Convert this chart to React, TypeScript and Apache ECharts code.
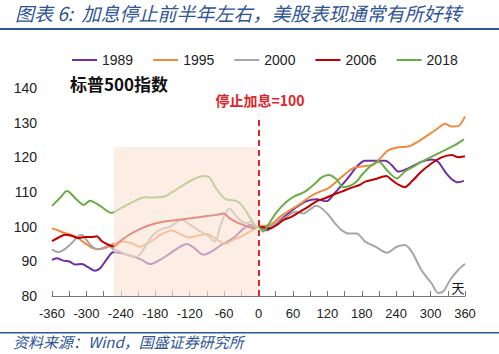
import React, { useEffect, useRef } from "react";
import * as echarts from "echarts";

const seriesNames = ["1989", "1995", "2000", "2006", "2018"];
const seriesColors = ["#7030A0", "#F08A3C", "#A6A6A6", "#C00000", "#6BAD45"];

const s1989: number[][] = [[-360,90.4],[-352,90.9],[-340,90.2],[-329,89.9],[-320,89.1],[-308,89.2],[-297,88.3],[-285,87.3],[-276,88],[-265,90.5],[-253,92.6],[-238,92.3],[-221,91.5],[-204,90.5],[-189,89.2],[-172,90.4],[-154,92.3],[-137,94.2],[-125,95],[-114,94.1],[-96,91.9],[-82,92.8],[-67,94.5],[-56,95.5],[-41,97.1],[-29,99],[-15,100.5],[-5,99.8],[0,100],[14,99],[30,100.8],[49,103.4],[66,105.6],[83,107.3],[101,107.9],[118,107.3],[133,109.7],[148,112.5],[160,114.9],[171,117.3],[186,119],[203,119],[221,119],[232,117.8],[244,115.9],[255,116.4],[267,117.3],[284,118.7],[302,119.4],[313,118.7],[325,115.9],[337,113.7],[348,112.8],[358,113.2]];
const s1995: number[][] = [[-360,99.5],[-349,98.9],[-337,98.1],[-326,97.6],[-314,96.6],[-302,95.2],[-291,94],[-279,93.5],[-265,94],[-253,95],[-238,95.7],[-221,95.2],[-207,94.2],[-190,95.5],[-180,96.5],[-172,97.6],[-151,98.9],[-137,97.9],[-122,96.9],[-108,97.3],[-90,97.9],[-73,96.4],[-58,95],[-44,96.2],[-29,97.3],[-15,98.6],[0,100],[20,100.5],[38,102.9],[55,104.8],[73,106.6],[90,108.7],[107,110.1],[122,111.1],[136,113],[151,115.2],[165,116.9],[177,117.3],[186,117.5],[200,117.8],[215,120.2],[226,122],[244,122.9],[261,123.1],[279,124.6],[296,126.5],[313,128.4],[325,129.7],[337,128.9],[348,129],[360,131.8]];
const s2000: number[][] = [[-360,93.4],[-349,92.7],[-337,93.6],[-326,95.2],[-314,97.3],[-308,97.6],[-300,96.2],[-291,94.4],[-282,93.5],[-273,93.7],[-262,94.5],[-253,93.5],[-241,92.8],[-224,91.5],[-212,91.3],[-201,93.3],[-186,97.2],[-172,99.1],[-154,100],[-134,101.9],[-119,100.5],[-105,99],[-90,97.6],[-76,95.7],[-67,100],[-58,103.8],[-50,105.2],[-41,103.4],[-32,101.9],[-21,101],[-12,101.4],[-5,100.2],[0,100],[8,99.5],[32,101],[49,102.9],[66,104.3],[78,103.8],[90,105],[101,106],[110,105.3],[122,103.4],[133,101],[145,99],[157,98],[171,98],[186,95.7],[203,94.3],[224,92.5],[241,94.2],[255,94.7],[267,92.8],[284,87.5],[302,83.6],[313,80.9],[322,81.3],[334,84.6],[348,87.5],[360,89.3]];
const s2006: number[][] = [[-360,95.8],[-349,96.8],[-337,97.7],[-326,97.4],[-314,96.7],[-302,97],[-291,97],[-282,97.2],[-273,95.8],[-262,94.8],[-253,94.3],[-238,96.2],[-221,98.1],[-204,99.5],[-189,100.5],[-166,101.4],[-143,101.9],[-119,102.4],[-96,102.9],[-73,103.4],[-61,103.8],[-50,102.4],[-35,101],[-21,100.2],[-9,99.5],[0,100],[20,99.5],[32,100.5],[43,101.9],[58,102.9],[72,104.3],[87,105.8],[101,107.3],[116,108.2],[130,109.2],[145,110.1],[160,111.1],[177,112.1],[186,113],[203,113.7],[223,114.6],[232,113.5],[244,112.1],[255,111.4],[267,113],[284,115.9],[302,118.3],[319,120],[337,120.7],[348,120],[360,120.3]];
const s2018: number[][] = [[-360,106],[-345,108.5],[-334,110.3],[-317,107.8],[-304,106.3],[-294,107.5],[-279,106.3],[-262,104.3],[-256,104],[-238,105.5],[-221,107],[-198,108.5],[-189,108.4],[-166,108.6],[-149,110.1],[-131,112],[-114,113.6],[-96,114.6],[-87,114.4],[-73,110.8],[-58,108],[-47,107.7],[-35,107.1],[-23,104.8],[-14,102.4],[-3,99.8],[0,100],[8,98.6],[17,100.5],[32,104.3],[49,107.2],[61,108.6],[81,110.1],[99,112.5],[110,114.2],[122,114.9],[136,113.7],[148,111.4],[160,111.8],[171,113],[180,114.9],[194,117.3],[209,118.7],[226,115.9],[241,113.9],[255,115.9],[270,117.3],[284,118.7],[302,120.2],[325,122.1],[343,123.6],[358,125.2]];
const seriesData = [s1989, s1995, s2000, s2006, s2018];

const shadeRange = [-252, 0];
const shadeTop = 123;
const stopLineTop = 132;

export default function App() {
  const ref = useRef<HTMLDivElement>(null);
  useEffect(() => {
    if (!ref.current) return;
    const chart = echarts.init(ref.current, null, { renderer: "svg" });
    const lines = seriesNames.map((name, i) => ({
      name,
      type: "line",
      data: seriesData[i],
      symbol: "none",
      smooth: 0.3,
      z: 2,
      lineStyle: { width: 2, color: seriesColors[i] },
      itemStyle: { color: seriesColors[i] },
    }));
    chart.setOption({
      animation: false,
      backgroundColor: "#ffffff",
      grid: { left: 52, right: 34, top: 88, bottom: 58 },
      legend: {
        data: seriesNames,
        top: 48,
        left: 67,
        icon: "rect",
        itemWidth: 25,
        itemHeight: 2,
        itemGap: 20,
        textStyle: { fontSize: 14, color: "#222", fontFamily: "Liberation Sans" },
      },
      xAxis: {
        type: "value",
        min: -360,
        max: 360,
        interval: 30,
        axisLine: { lineStyle: { color: "#777", width: 1 } },
        axisTick: { inside: true, length: 5, lineStyle: { color: "#777" } },
        axisLabel: {
          fontSize: 13,
          color: "#222",
          margin: 11,
          fontFamily: "Liberation Sans",
          formatter: (v: number) => (v % 60 === 0 ? String(v) : ""),
        },
        splitLine: { show: false },
      },
      yAxis: {
        type: "value",
        min: 80,
        max: 140,
        interval: 10,
        axisLine: { show: false },
        axisTick: { show: false },
        axisLabel: { fontSize: 14, color: "#222", margin: 15, fontFamily: "Liberation Sans" },
        splitLine: { show: false },
      },
      series: [
        ...lines,
        {
          name: "shade",
          type: "line",
          data: [[0, 100]],
          symbol: "none",
          lineStyle: { opacity: 0 },
          z: 10,
          silent: true,
          markArea: {
            silent: true,
            z: 10,
            itemStyle: { color: "rgba(250,228,212,0.62)" },
            data: [[{ coord: [shadeRange[0], 80] }, { coord: [shadeRange[1], shadeTop] }]],
          },
          markLine: {
            silent: true,
            z: 12,
            symbol: "none",
            label: { show: false },
            lineStyle: { type: [6, 4], color: "#E2232A", width: 2 },
            data: [[{ coord: [0, 80] }, { coord: [0, stopLineTop] }]],
          },
        },
      ],
      graphic: [
        {
          type: "text",
          left: 15,
          top: 3,
          style: {
            text: "图表 6:  加息停止前半年左右，美股表现通常有所好转",
            fontSize: 19,
            fontStyle: "italic",
            fill: "#2F5597",
            fontFamily: "Noto Sans CJK SC",
          },
        },
        { type: "rect", shape: { x: 0, y: 28, width: 499, height: 2 }, style: { fill: "#2F5597" } },
        { type: "rect", shape: { x: 0, y: 332, width: 499, height: 1.5 }, style: { fill: "#2F5597" } },
        {
          type: "text",
          left: 13,
          top: 334,
          style: {
            text: "资料来源：Wind，国盛证券研究所",
            fontSize: 15,
            fontStyle: "italic",
            fill: "#2F5597",
            fontFamily: "Noto Sans CJK SC",
          },
        },
        {
          type: "text",
          left: 70,
          top: 75,
          style: {
            text: "标普500指数",
            fontSize: 17,
            fontWeight: "bold",
            fill: "#111",
            fontFamily: "Noto Sans CJK SC",
          },
        },
        {
          type: "text",
          x: 260,
          y: 100,
          z: 20,
          style: {
            text: "停止加息=100",
            fontSize: 14,
            fontWeight: "bold",
            fill: "#E2232A",
            align: "center",
            verticalAlign: "middle",
            backgroundColor: "rgba(255,255,255,0.9)",
            padding: [2, 3],
            fontFamily: "Noto Sans CJK SC",
          },
        },
        {
          type: "text",
          x: 458,
          y: 287,
          z: 20,
          style: {
            text: "天",
            fontSize: 13,
            fill: "#111",
            align: "center",
            verticalAlign: "middle",
            fontFamily: "Noto Sans CJK SC",
          },
        },
      ],
    });
    return () => chart.dispose();
  }, []);
  return (
    <div
      ref={ref}
      style={{ position: "fixed", left: 0, top: 0, width: 499, height: 354, background: "#fff" }}
    />
  );
}
